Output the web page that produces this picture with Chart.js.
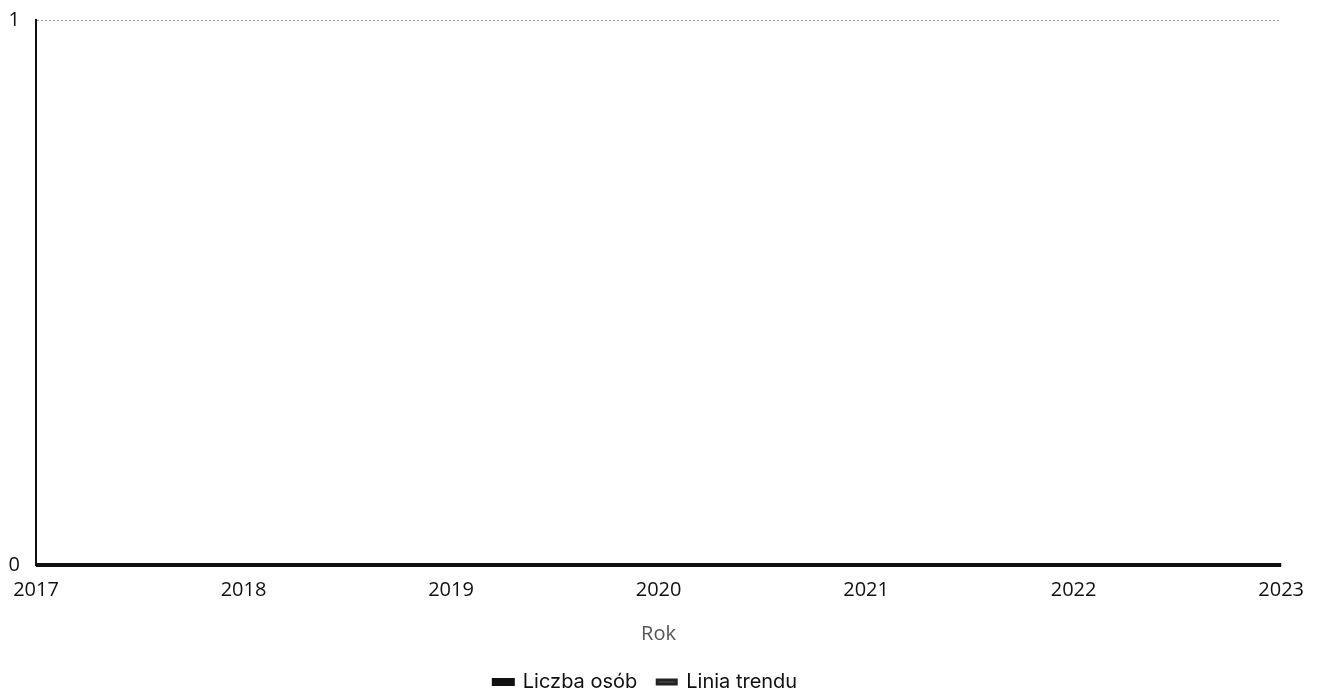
<!DOCTYPE html>
<html>
<head>
<meta charset="utf-8">
<script src="https://cdn.jsdelivr.net/npm/chart.js@4/dist/chart.umd.min.js"></script>
<style>
html,body{margin:0;padding:0;background:#fff;}
#wrap{width:1317px;height:694px;position:relative;}
</style>
</head>
<body>
<div id="wrap"><canvas id="c"></canvas></div>
<script>
const years = [2017, 2018, 2019, 2020, 2021, 2022, 2023];
const liczbaOsob = [0, 0, 0, 0, 0, 0, 0];
const liniaTrendu = [0, 0, 0, 0, 0, 0, 0];
const yTicks = [0, 1];
const xTitle = 'Rok';
const seriesNames = ['Liczba osób', 'Linia trendu'];

const toPts = (arr) => years.map((y, i) => ({x: y, y: arr[i]}));

const legendShift = {
  id: 'legendShift',
  afterLayout(chart) {
    if (chart.legend) { chart.legend.left -= 16; chart.legend.right -= 16; }
  }
};

new Chart(document.getElementById('c'), {
  type: 'line',
  data: {
    datasets: [
      {label: seriesNames[0], data: toPts(liczbaOsob), borderColor: '#111', backgroundColor: '#111', borderWidth: 4, pointRadius: 0, tension: 0, clip: false},
      {label: seriesNames[1], data: toPts(liniaTrendu), borderColor: '#222', backgroundColor: '#555', borderWidth: 3, pointRadius: 0, tension: 0, clip: false}
    ]
  },
  plugins: [legendShift],
  options: {
    responsive: true,
    maintainAspectRatio: false,
    animation: false,
    layout: {padding: {left: 8, right: 2, top: 20, bottom: -8}},
    scales: {
      x: {
        type: 'linear',
        min: years[0], max: years[years.length - 1],
        afterFit: (ax) => { ax.paddingLeft = 0; },
        ticks: {stepSize: 1, color: '#111', font: {family: 'Open Sans', size: 20}, padding: 13, maxRotation: 0,
          callback: v => String(v)},
        grid: {display: false, drawTicks: false},
        border: {display: false},
        title: {display: true, text: xTitle, color: '#555', font: {family: 'Open Sans', size: 20}, padding: {top: 7, bottom: 6}}
      },
      y: {
        min: yTicks[0], max: yTicks[yTicks.length - 1],
        afterBuildTicks: (ax) => { ax.ticks = yTicks.map(v => ({value: v})); },
        afterFit: (ax) => { ax.width = 28; ax.paddingTop = 0; ax.paddingBottom = 0; },
        ticks: {color: '#111', font: {family: 'Open Sans', size: 20}, padding: 16},
        grid: {color: '#999', drawTicks: false, lineWidth: 1},
        border: {display: true, color: '#111', width: 2, dash: [2, 2]}
      }
    },
    plugins: {
      legend: {
        position: 'bottom',
        labels: {boxWidth: 19, boxHeight: 4, color: '#111', font: {family: 'Inter', size: 20}, padding: 20}
      },
      tooltip: {enabled: false}
    }
  }
});
</script>
</body>
</html>
